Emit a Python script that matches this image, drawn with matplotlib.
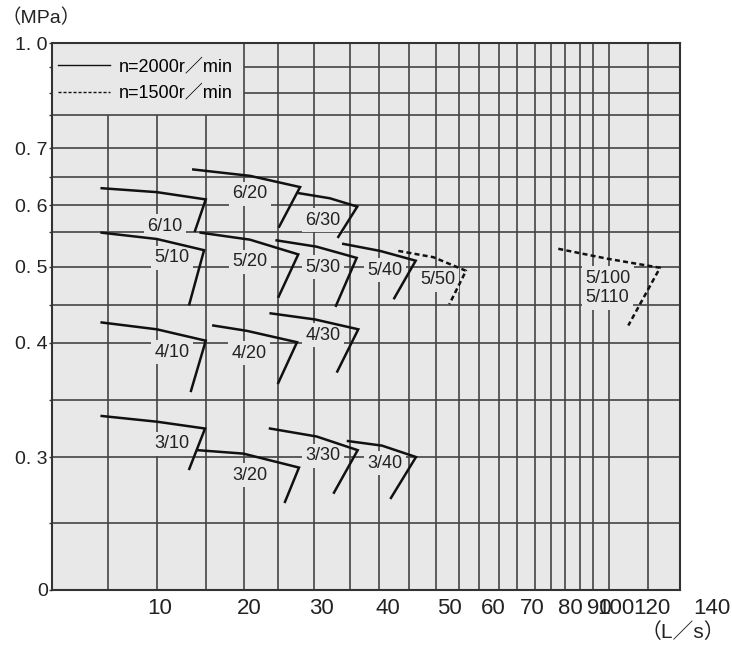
import numpy as np
import matplotlib
matplotlib.use("Agg")
import matplotlib.pyplot as plt
from matplotlib.lines import Line2D

# 원본 도표의 비선형 눈금: 값 -> 축 위 위치(0~1)
q_anchor = [0, 10, 20, 30, 40, 50, 60, 70, 80, 90, 100, 120, 140]
q_anchor_pos = [0, 0.172, 0.3137, 0.4299, 0.535, 0.6322, 0.7022, 0.7643, 0.8248, 0.871, 0.8981, 0.9554, 1.051]
h_anchor = [0, 0.25, 0.3, 0.35, 0.4, 0.45, 0.5, 0.55, 0.6, 0.65, 0.7, 0.8, 0.9, 0.95, 1.0]
h_anchor_pos = [0, 0.1225, 0.2431, 0.3473, 0.4516, 0.521, 0.5905, 0.6545, 0.7038, 0.755, 0.808, 0.8684, 0.9086, 0.9561, 1.0]

# 격자선 (L/s, MPa)
q_grid = [5.2, 9.7, 15.2, 19.4, 24.0, 28.9, 34.2, 38.6, 43.4, 47.9, 52.3, 56.8,
          61.5, 66.2, 70.8, 75.0, 78.7, 83.4, 87.9, 95.9, 117.8]
h_grid = [0.25, 0.3, 0.35, 0.4, 0.45, 0.5, 0.55, 0.6, 0.65, 0.7, 0.8, 0.9, 0.95]

x_ticks = [10, 20, 30, 40, 50, 60, 70, 80, 90, 100, 120]
y_ticks = [0, 0.3, 0.4, 0.5, 0.6, 0.7, 1.0]
y_tick_labels = ["0", "0. 3", "0. 4", "0. 5", "0. 6", "0. 7", "1. 0"]

# n=2000r/min 곡선 (유량 L/s, 압력 MPa)
q_3_10 = [4.6, 9.7, 15.06, 13.29]
h_3_10 = [0.336, 0.331, 0.325, 0.291]
q_3_20 = [14.24, 19.36, 26.85, 24.93]
h_3_20 = [0.306, 0.303, 0.292, 0.266]
q_3_30 = [22.88, 29.27, 35.41, 31.82]
h_3_30 = [0.325, 0.318, 0.306, 0.273]
q_3_40 = [33.94, 39.09, 44.59, 40.49]
h_3_40 = [0.314, 0.310, 0.300, 0.269]
q_4_10 = [4.6, 9.7, 15.14, 13.48]
h_4_10 = [0.427, 0.418, 0.403, 0.358]
q_4_20 = [15.99, 19.75, 26.58, 24.01]
h_4_20 = [0.423, 0.416, 0.401, 0.365]
q_4_30 = [22.97, 29.04, 35.5, 32.32]
h_4_30 = [0.439, 0.431, 0.418, 0.375]
q_5_10 = [4.6, 9.7, 14.95, 13.29]
h_5_10 = [0.549, 0.540, 0.524, 0.451]
q_5_20 = [14.57, 20.14, 26.75, 24.06]
h_5_20 = [0.549, 0.539, 0.518, 0.461]
q_5_30 = [23.79, 29.27, 35.26, 32.12]
h_5_30 = [0.538, 0.529, 0.513, 0.449]
q_5_40 = [33.23, 38.79, 44.54, 41.03]
h_5_40 = [0.533, 0.523, 0.509, 0.459]
q_6_10 = [4.6, 9.7, 15.14, 13.93]
h_6_10 = [0.630, 0.623, 0.610, 0.552]
q_6_20 = [13.74, 20.14, 27.0, 24.14]
h_6_20 = [0.663, 0.652, 0.632, 0.560]
q_6_30 = [26.9, 31.21, 35.35, 32.47]
h_6_30 = [0.621, 0.612, 0.597, 0.543]

# n=1500r/min 곡선
q_5_50 = [41.69, 47.43, 53.86, 50.07]
h_5_50 = [0.523, 0.514, 0.495, 0.451]
q_5_100 = [76.92, 94.53, 122.67, 106.83]
h_5_100 = [0.526, 0.512, 0.499, 0.423]

solid_q = [q_3_10, q_3_20, q_3_30, q_3_40, q_4_10, q_4_20, q_4_30,
           q_5_10, q_5_20, q_5_30, q_5_40, q_6_10, q_6_20, q_6_30]
solid_h = [h_3_10, h_3_20, h_3_30, h_3_40, h_4_10, h_4_20, h_4_30,
           h_5_10, h_5_20, h_5_30, h_5_40, h_6_10, h_6_20, h_6_30]
dash_q = [q_5_50, q_5_100]
dash_h = [h_5_50, h_5_100]

# 곡선 이름표 (축 비율 좌표)
names = ["6/10", "6/20", "6/30", "5/10", "5/20", "5/30", "5/40", "5/50", "5/100", "5/110",
         "4/10", "4/20", "4/30", "3/10", "3/20", "3/30", "3/40"]
name_x = [0.180, 0.315, 0.4315, 0.191, 0.315, 0.4315, 0.530, 0.615, 0.885, 0.884,
          0.191, 0.314, 0.4315, 0.191, 0.315, 0.4315, 0.530]
name_y = [0.665, 0.724, 0.676, 0.607, 0.600, 0.590, 0.585, 0.567, 0.570, 0.534,
          0.435, 0.433, 0.466, 0.267, 0.210, 0.245, 0.232]

bg = "#e8e8e8"
grid_c = "#444444"
fam = ["Liberation Sans", "Noto Sans CJK SC", "DejaVu Sans"]


def q_fwd(v):
    return np.interp(v, q_anchor, q_anchor_pos)


def q_inv(p):
    return np.interp(p, q_anchor_pos, q_anchor)


def h_fwd(v):
    return np.interp(v, h_anchor, h_anchor_pos)


def h_inv(p):
    return np.interp(p, h_anchor_pos, h_anchor)


fig = plt.figure(figsize=(7.32, 6.48), dpi=100)
ax = fig.add_axes([52 / 732, 58 / 648, 628 / 732, 547 / 648])
ax.set_facecolor(bg)
ax.set_xscale("function", functions=(q_fwd, q_inv))
ax.set_yscale("function", functions=(h_fwd, h_inv))
ax.set_xlim(0, q_inv(1.0))
ax.set_ylim(0, 1.0)

# 격자 (왼쪽 위 범례 자리는 비워둠)
for q in q_grid:
    top = 0.8 if q < 19.4 else 1.0
    ax.vlines(q, 0, top, color=grid_c, lw=1.2, zorder=1)
for h in h_grid:
    left = 19.4 if h > 0.8 else 0
    ax.hlines(h, left, q_inv(1.0), color=grid_c, lw=1.2, zorder=1)

for q, h in zip(solid_q, solid_h):
    ax.plot(q, h, color="#111111", lw=1.8, zorder=4, solid_joinstyle="miter")
for q, h in zip(dash_q, dash_h):
    ax.plot(q, h, color="#111111", lw=1.8, zorder=4, dashes=(2.0, 1.3))

for s, x, y in zip(names, name_x, name_y):
    ax.text(x, y, s, transform=ax.transAxes, ha="center", va="center",
            fontsize=13, family=fam, color="#222222", zorder=3,
            bbox=dict(boxstyle="square,pad=0.2", fc=bg, ec="none"))

handles = [Line2D([], [], color="#111111", lw=1.0),
           Line2D([], [], color="#111111", lw=1.0, dashes=(2.2, 1.4))]
leg = ax.legend(handles, ["n=2000r／min", "n=1500r／min"], loc="upper left",
                bbox_to_anchor=(0, 1 - 9 / 547), frameon=False, borderaxespad=0,
                borderpad=0.33, handlelength=2.9, handletextpad=0.45, labelspacing=0.55,
                prop={"family": fam, "size": 13})
leg.set_zorder(5)

for sp in ax.spines.values():
    sp.set_color("#333333")
    sp.set_linewidth(1.5)
    sp.set_zorder(6)

ax.set_xticks(x_ticks)
ax.set_xticklabels([str(t) for t in x_ticks], family=fam, fontsize=16, color="#222222")
ax.tick_params(axis="x", length=0, pad=6)
ax.text(140, -8 / 547, "140", transform=ax.get_xaxis_transform(), ha="center", va="top",
        family=fam, fontsize=16, color="#222222")
ax.xaxis.set_minor_locator(matplotlib.ticker.NullLocator())

ax.set_yticks(y_ticks)
ax.set_yticklabels(y_tick_labels, family=fam, fontsize=14, color="#222222")
ax.set_yticks([v for v in h_grid if v not in y_ticks], minor=True)
ax.tick_params(axis="y", which="both", length=2.5, width=1.0, color="#333333", pad=0.5)

fig.text(0.002, 1 - 18 / 648, "（MPa）", ha="left", va="center",
         family=fam, fontsize=14, color="#222222")
ax.text(1.005, -0.077, "（L／s）", transform=ax.transAxes, ha="center", va="center",
        family=fam, fontsize=15, color="#222222")

fig.savefig("out.png", dpi=100, facecolor="white")
